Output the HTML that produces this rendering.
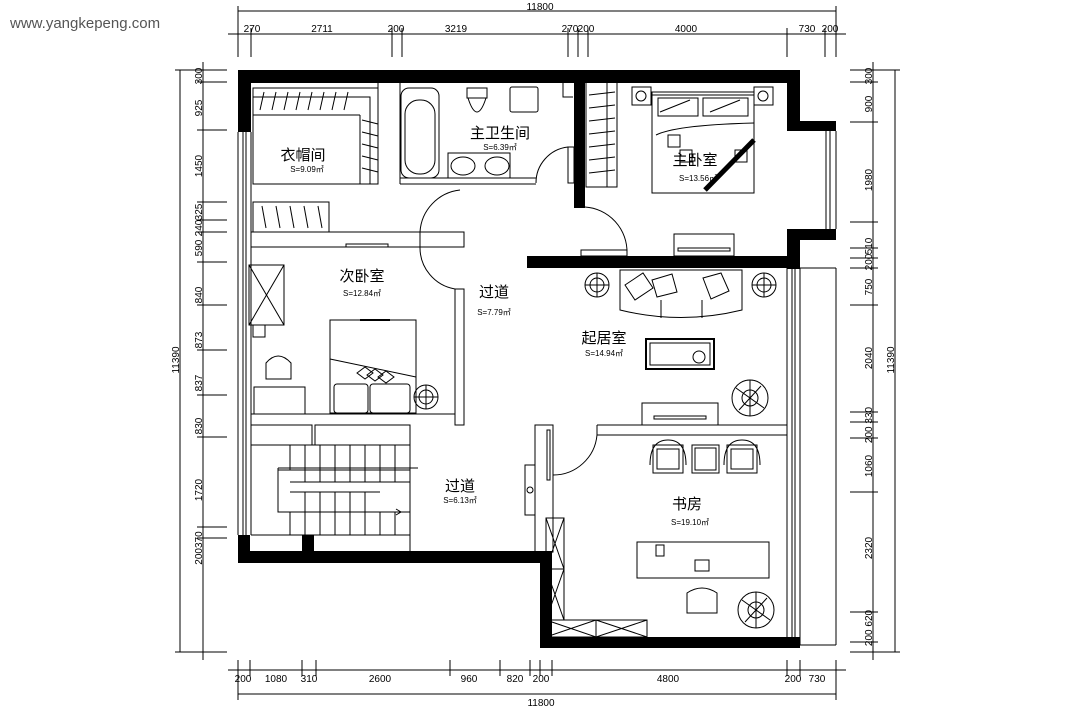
<!DOCTYPE html>
<html><head><meta charset="utf-8"><style>
html,body{margin:0;padding:0;background:#fff;}
svg{display:block;}
text{font-family:"Liberation Sans","Noto Sans CJK SC",sans-serif;fill:#000;}
.d{font-size:10px;font-family:"Liberation Sans",sans-serif;}
</style></head><body>
<svg width="1087" height="725" viewBox="0 0 1087 725" xmlns="http://www.w3.org/2000/svg">
<text x="10" y="28" style="font-size:15px;fill:#555">www.yangkepeng.com</text>

<g stroke="#000" stroke-width="1" fill="none">
<!-- top dims -->
<line x1="238" y1="11" x2="836" y2="11"/>
<line x1="228" y1="34" x2="846" y2="34"/>
<g>
<line x1="238" y1="6" x2="238" y2="57"/><line x1="251" y1="28" x2="251" y2="57"/><line x1="392" y1="28" x2="392" y2="57"/><line x1="402" y1="28" x2="402" y2="57"/><line x1="568" y1="28" x2="568" y2="57"/><line x1="578" y1="28" x2="578" y2="57"/><line x1="588" y1="28" x2="588" y2="57"/><line x1="787" y1="28" x2="787" y2="57"/><line x1="825" y1="28" x2="825" y2="57"/><line x1="836" y1="6" x2="836" y2="57"/>
</g>
<!-- bottom dims -->
<line x1="228" y1="670" x2="846" y2="670"/>
<line x1="238" y1="694" x2="836" y2="694"/>
<g>
<line x1="238" y1="660" x2="238" y2="700"/><line x1="250" y1="660" x2="250" y2="676"/><line x1="302" y1="660" x2="302" y2="676"/><line x1="316" y1="660" x2="316" y2="676"/><line x1="450" y1="660" x2="450" y2="676"/><line x1="500" y1="660" x2="500" y2="676"/><line x1="530" y1="660" x2="530" y2="676"/><line x1="540" y1="660" x2="540" y2="676"/><line x1="552" y1="660" x2="552" y2="676"/><line x1="787" y1="660" x2="787" y2="676"/><line x1="800" y1="660" x2="800" y2="676"/><line x1="836" y1="660" x2="836" y2="700"/>
</g>
<!-- left dims -->
<line x1="180" y1="70" x2="180" y2="652"/>
<line x1="203" y1="62" x2="203" y2="660"/>
<g>
<line x1="175" y1="70" x2="227" y2="70"/><line x1="197" y1="82" x2="227" y2="82"/><line x1="197" y1="130" x2="227" y2="130"/><line x1="197" y1="202" x2="227" y2="202"/><line x1="197" y1="220" x2="227" y2="220"/><line x1="197" y1="232" x2="227" y2="232"/><line x1="197" y1="262" x2="227" y2="262"/><line x1="197" y1="305" x2="227" y2="305"/><line x1="197" y1="350" x2="227" y2="350"/><line x1="197" y1="395" x2="227" y2="395"/><line x1="197" y1="437" x2="227" y2="437"/><line x1="197" y1="527" x2="227" y2="527"/><line x1="197" y1="538" x2="227" y2="538"/><line x1="175" y1="652" x2="227" y2="652"/>
</g>
<!-- right dims -->
<line x1="873" y1="62" x2="873" y2="660"/>
<line x1="895" y1="70" x2="895" y2="652"/>
<g>
<line x1="850" y1="70" x2="900" y2="70"/><line x1="850" y1="82" x2="878" y2="82"/><line x1="850" y1="122" x2="878" y2="122"/><line x1="850" y1="222" x2="878" y2="222"/><line x1="850" y1="248" x2="878" y2="248"/><line x1="850" y1="258" x2="878" y2="258"/><line x1="850" y1="268" x2="878" y2="268"/><line x1="850" y1="305" x2="878" y2="305"/><line x1="850" y1="412" x2="878" y2="412"/><line x1="850" y1="422" x2="878" y2="422"/><line x1="850" y1="438" x2="878" y2="438"/><line x1="850" y1="492" x2="878" y2="492"/><line x1="850" y1="612" x2="878" y2="612"/><line x1="850" y1="642" x2="878" y2="642"/><line x1="850" y1="652" x2="900" y2="652"/>
</g>
</g>
<!-- dimension texts -->
<g class="d" text-anchor="middle">
<text x="540" y="10" class="d">11800</text>
<text x="252" y="32" class="d">270</text><text x="322" y="32" class="d">2711</text><text x="396" y="32" class="d">200</text><text x="456" y="32" class="d">3219</text><text x="570" y="32" class="d">270</text><text x="586" y="32" class="d">200</text><text x="686" y="32" class="d">4000</text><text x="807" y="32" class="d">730</text><text x="830" y="32" class="d">200</text>
<text x="243" y="682" class="d">200</text><text x="276" y="682" class="d">1080</text><text x="309" y="682" class="d">310</text><text x="380" y="682" class="d">2600</text><text x="469" y="682" class="d">960</text><text x="515" y="682" class="d">820</text><text x="541" y="682" class="d">200</text><text x="668" y="682" class="d">4800</text><text x="793" y="682" class="d">200</text><text x="817" y="682" class="d">730</text>
<text x="541" y="706" class="d">11800</text>
</g>
<g class="d" text-anchor="middle">
<text transform="translate(202,76) rotate(-90)" class="d">300</text>
<text transform="translate(202,108) rotate(-90)" class="d">925</text>
<text transform="translate(202,166) rotate(-90)" class="d">1450</text>
<text transform="translate(202,212) rotate(-90)" class="d">325</text>
<text transform="translate(202,228) rotate(-90)" class="d">240</text>
<text transform="translate(202,248) rotate(-90)" class="d">590</text>
<text transform="translate(202,295) rotate(-90)" class="d">840</text>
<text transform="translate(202,340) rotate(-90)" class="d">873</text>
<text transform="translate(202,383) rotate(-90)" class="d">837</text>
<text transform="translate(202,426) rotate(-90)" class="d">830</text>
<text transform="translate(202,490) rotate(-90)" class="d">1720</text>
<text transform="translate(202,548) rotate(-90)" class="d">200370</text>
<text transform="translate(179,360) rotate(-90)" class="d">11390</text>
<text transform="translate(872,76) rotate(-90)" class="d">300</text>
<text transform="translate(872,104) rotate(-90)" class="d">900</text>
<text transform="translate(872,180) rotate(-90)" class="d">1980</text>
<text transform="translate(872,246) rotate(-90)" class="d">510</text>
<text transform="translate(872,262) rotate(-90)" class="d">200</text>
<text transform="translate(872,287) rotate(-90)" class="d">750</text>
<text transform="translate(872,358) rotate(-90)" class="d">2040</text>
<text transform="translate(872,425) rotate(-90)" class="d">200 330</text>
<text transform="translate(872,466) rotate(-90)" class="d">1060</text>
<text transform="translate(872,548) rotate(-90)" class="d">2320</text>
<text transform="translate(872,628) rotate(-90)" class="d">200 620</text>
<text transform="translate(894,360) rotate(-90)" class="d">11390</text>
</g>

<!-- thick walls -->
<g fill="#000">
<rect x="238" y="70" width="562" height="13"/>
<rect x="238" y="70" width="13" height="62"/>
<rect x="787" y="70" width="13" height="54"/>
<rect x="787" y="121" width="49" height="10"/>
<rect x="787" y="229" width="49" height="11"/>
<rect x="787" y="229" width="13" height="40"/>
<rect x="527" y="256" width="273" height="12"/>
<rect x="574" y="82" width="11" height="126"/>
<rect x="238" y="535" width="12" height="27"/>
<rect x="302" y="535" width="12" height="27"/>
<rect x="238" y="551" width="314" height="12"/>
<rect x="540" y="551" width="12" height="97"/>
<rect x="540" y="637" width="260" height="11"/>
</g>

<g stroke="#000" stroke-width="1" fill="none">
<!-- left window -->
<line x1="238" y1="132" x2="238" y2="535"/><line x1="243" y1="132" x2="243" y2="535"/><line x1="246" y1="132" x2="246" y2="535"/><line x1="251" y1="132" x2="251" y2="535"/>
<!-- right upper window -->
<line x1="826" y1="131" x2="826" y2="229"/><line x1="830" y1="131" x2="830" y2="229"/><line x1="836" y1="131" x2="836" y2="229"/>
<!-- right lower window -->
<line x1="800" y1="268" x2="800" y2="645"/><line x1="836" y1="268" x2="836" y2="645"/><line x1="800" y1="268" x2="836" y2="268"/><line x1="800" y1="645" x2="836" y2="645"/>
<line x1="787" y1="268" x2="787" y2="637"/><line x1="792" y1="268" x2="792" y2="637"/><line x1="795" y1="268" x2="795" y2="637"/>

<!-- closet (衣帽间) -->
<rect x="253" y="88" width="125" height="96"/>
<polyline points="253,97 370,97 370,184"/>
<line x1="253" y1="115" x2="360" y2="115"/><line x1="360" y1="115" x2="360" y2="184"/>
<line x1="378" y1="82" x2="378" y2="184"/><line x1="400" y1="82" x2="400" y2="184"/>
<g>
<line x1="260" y1="110" x2="264" y2="92"/><line x1="272" y1="110" x2="276" y2="92"/><line x1="284" y1="110" x2="288" y2="92"/><line x1="296" y1="110" x2="300" y2="92"/><line x1="308" y1="110" x2="312" y2="92"/><line x1="320" y1="110" x2="324" y2="92"/><line x1="332" y1="110" x2="336" y2="92"/><line x1="344" y1="110" x2="348" y2="92"/>
<line x1="362" y1="120" x2="378" y2="124"/><line x1="362" y1="132" x2="378" y2="136"/><line x1="362" y1="144" x2="378" y2="148"/><line x1="362" y1="156" x2="378" y2="160"/><line x1="362" y1="168" x2="378" y2="172"/>
</g>
<!-- lower closet -->
<rect x="253" y="202" width="76" height="30"/>
<line x1="262" y1="206" x2="266" y2="228"/><line x1="276" y1="206" x2="280" y2="228"/><line x1="290" y1="206" x2="294" y2="228"/><line x1="304" y1="206" x2="308" y2="228"/><line x1="318" y1="206" x2="322" y2="228"/>
<!-- partition wall with door -->
<polyline points="251,232 464,232 464,247 251,247"/>
<line x1="420" y1="232" x2="420" y2="247"/>
<path d="M420,232 A45,45 0 0 1 460,190"/>
<path d="M420,247 A42,42 0 0 0 455,289"/>
<rect x="346" y="244" width="42" height="3"/>
<!-- hall vertical wall -->
<rect x="455" y="289" width="9" height="136"/>
<!-- bath -->
<rect x="401" y="88" width="38" height="90" rx="8"/>
<rect x="405" y="100" width="30" height="74" rx="14"/>
<line x1="400" y1="178" x2="536" y2="178"/><line x1="400" y1="184" x2="536" y2="184"/>
<rect x="448" y="153" width="62" height="25"/>
<ellipse cx="463" cy="166" rx="12" ry="9"/><ellipse cx="497" cy="166" rx="12" ry="9"/>
<path d="M467,88 h20 v10 h-20z M468,98 q9,28 18,0"/>
<rect x="510" y="87" width="28" height="25" rx="2"/>
<path d="M563,82 v15 h10"/>
<rect x="568" y="147" width="6" height="36"/>
<path d="M536,183 A36,36 0 0 1 568,147"/>
<!-- master wardrobe -->
<rect x="586" y="82" width="31" height="105"/>
<line x1="607" y1="82" x2="607" y2="187"/>
<line x1="589" y1="95" x2="615" y2="92"/><line x1="589" y1="108" x2="615" y2="105"/><line x1="589" y1="121" x2="615" y2="118"/><line x1="589" y1="134" x2="615" y2="131"/><line x1="589" y1="147" x2="615" y2="144"/><line x1="589" y1="160" x2="615" y2="157"/><line x1="589" y1="173" x2="615" y2="170"/>
<!-- master bed -->
<rect x="632" y="87" width="19" height="18"/><rect x="754" y="87" width="19" height="18"/>
<circle cx="641" cy="96" r="5"/><circle cx="763" cy="96" r="5"/>
<rect x="652" y="92" width="102" height="101"/>
<line x1="652" y1="95" x2="754" y2="95"/>
<rect x="658" y="98" width="40" height="18"/><rect x="703" y="98" width="45" height="18"/>
<line x1="660" y1="112" x2="690" y2="100"/><line x1="710" y1="112" x2="740" y2="100"/>
<path d="M656,135 q20,-10 98,-12"/>
<line x1="705" y1="190" x2="754" y2="140" stroke-width="5"/>
<rect x="668" y="135" width="12" height="12"/><rect x="680" y="150" width="12" height="12"/><rect x="735" y="150" width="12" height="12"/>
<!-- master door -->
<path d="M585,207 A45,45 0 0 1 627,253"/>
<rect x="581" y="250" width="46" height="6"/>
<rect x="674" y="234" width="60" height="22"/>
<rect x="678" y="248" width="52" height="3"/>

<!-- second bedroom left furniture -->
<rect x="249" y="265" width="35" height="60"/>
<line x1="249" y1="265" x2="284" y2="325"/><line x1="284" y1="265" x2="249" y2="325"/>
<rect x="253" y="325" width="12" height="12"/>
<path d="M266,379 v-16 q12,-14 25,0 v16 z"/>
<rect x="254" y="387" width="51" height="27"/>
<line x1="251" y1="414" x2="455" y2="414"/>
<!-- bed2 -->
<rect x="330" y="320" width="86" height="93"/>
<line x1="360" y1="320" x2="390" y2="320" stroke-width="2"/>
<line x1="330" y1="359" x2="416" y2="377"/>
<rect x="334" y="384" width="34" height="29" rx="3"/><rect x="370" y="384" width="40" height="29" rx="3"/>
<path d="M357,373 l8,-6 8,6 -8,6z M367,375 l8,-6 8,6 -8,6z M378,377 l8,-6 8,6 -8,6z"/>
<circle cx="426" cy="397" r="12"/><circle cx="426" cy="397" r="7"/>
<line x1="414" y1="397" x2="438" y2="397"/><line x1="426" y1="385" x2="426" y2="409"/>

<!-- stair area -->
<polyline points="251,425 312,425 312,445 315,445 315,425 410,425 410,552"/>
<line x1="251" y1="445" x2="410" y2="445"/>
<rect x="290" y="445" width="120" height="90"/>
<g>
<line x1="305" y1="445" x2="305" y2="535"/><line x1="320" y1="445" x2="320" y2="535"/><line x1="335" y1="445" x2="335" y2="535"/><line x1="350" y1="445" x2="350" y2="535"/><line x1="365" y1="445" x2="365" y2="535"/><line x1="380" y1="445" x2="380" y2="535"/><line x1="395" y1="445" x2="395" y2="535"/>
</g>
<rect x="278" y="470" width="132" height="42" fill="#fff"/>
<line x1="290" y1="482" x2="410" y2="482"/><line x1="290" y1="492" x2="380" y2="492"/>
<g><line x1="305" y1="470" x2="305" y2="482"/><line x1="320" y1="470" x2="320" y2="482"/><line x1="335" y1="470" x2="335" y2="482"/><line x1="350" y1="470" x2="350" y2="482"/><line x1="365" y1="470" x2="365" y2="482"/><line x1="380" y1="470" x2="380" y2="482"/><line x1="395" y1="470" x2="395" y2="482"/>
<line x1="305" y1="492" x2="305" y2="512"/><line x1="320" y1="492" x2="320" y2="512"/><line x1="335" y1="492" x2="335" y2="512"/><line x1="350" y1="492" x2="350" y2="512"/><line x1="365" y1="492" x2="365" y2="512"/></g>
<line x1="290" y1="512" x2="410" y2="512"/>
<line x1="278" y1="468" x2="418" y2="468"/><line x1="278" y1="468" x2="278" y2="512"/>
<line x1="278" y1="512" x2="400" y2="512"/>
<path d="M396,509 l5,3 -5,3"/>
<line x1="251" y1="535" x2="290" y2="535"/>

<!-- study / living -->
<rect x="535" y="425" width="18" height="127"/>
<rect x="547" y="430" width="3" height="50"/>
<path d="M553,475 A44,44 0 0 0 597,435"/>
<polyline points="597,425 787,425 787,435 597,435 597,425"/>
<rect x="525" y="465" width="10" height="50"/><circle cx="530" cy="490" r="3"/>
<rect x="546" y="518" width="18" height="102"/>
<line x1="546" y1="518" x2="564" y2="569"/><line x1="564" y1="518" x2="546" y2="569"/>
<line x1="546" y1="569" x2="564" y2="569"/>
<line x1="546" y1="569" x2="564" y2="620"/><line x1="564" y1="569" x2="546" y2="620"/>
<rect x="546" y="620" width="101" height="17"/><line x1="596" y1="620" x2="596" y2="637"/>
<line x1="546" y1="620" x2="596" y2="637"/><line x1="596" y1="620" x2="546" y2="637"/><line x1="596" y1="620" x2="647" y2="637"/><line x1="647" y1="620" x2="596" y2="637"/>
<!-- study chairs -->
<rect x="653" y="445" width="30" height="28"/><rect x="657" y="449" width="22" height="20"/>
<rect x="692" y="445" width="27" height="28"/><rect x="695" y="448" width="21" height="22"/>
<rect x="727" y="445" width="30" height="28"/><rect x="731" y="449" width="22" height="20"/>
<path d="M650,465 q0,-25 18,-25 q18,0 18,25"/><path d="M724,465 q0,-25 18,-25 q18,0 18,25"/>
<rect x="637" y="542" width="132" height="36"/>
<rect x="656" y="545" width="8" height="11"/><rect x="695" y="560" width="14" height="11"/>
<path d="M687,613 v-20 q15,-10 30,0 v20 z"/>
<circle cx="756" cy="610" r="18"/><circle cx="756" cy="610" r="8"/>
<path d="M742,600 l28,20 M745,622 l22,-24 M756,592 v36"/>
<!-- living -->
<circle cx="597" cy="285" r="12"/><circle cx="597" cy="285" r="7"/><line x1="585" y1="285" x2="609" y2="285"/><line x1="597" y1="273" x2="597" y2="297"/>
<circle cx="764" cy="285" r="12"/><circle cx="764" cy="285" r="7"/><line x1="752" y1="285" x2="776" y2="285"/><line x1="764" y1="273" x2="764" y2="297"/>
<path d="M620,270 h122 v40 q-61,15 -122,0 z"/>
<line x1="661" y1="300" x2="661" y2="318"/><line x1="702" y1="300" x2="702" y2="318"/>
<path d="M625,285 l18,-12 10,15 -18,12z M652,280 l20,-6 5,18 -20,5z M703,278 l18,-5 8,18 -18,8z"/>
<rect x="646" y="339" width="68" height="30" stroke-width="2"/>
<rect x="650" y="343" width="60" height="22"/><circle cx="699" cy="357" r="6"/>
<rect x="642" y="403" width="76" height="22"/>
<rect x="654" y="416" width="52" height="3"/>
<circle cx="750" cy="398" r="18"/><circle cx="750" cy="398" r="8"/>
<path d="M736,388 l28,20 M739,410 l22,-24 M750,380 v36"/>
</g>

<!-- labels -->
<g text-anchor="middle">
<text x="303" y="160" style="font-size:15px">衣帽间</text>
<text x="307" y="172" class="d" style="font-size:8px">S=9.09㎡</text>
<text x="500" y="138" style="font-size:15px">主卫生间</text>
<text x="500" y="150" class="d" style="font-size:8px">S=6.39㎡</text>
<text x="695" y="165" style="font-size:15px">主卧室</text>
<text x="698" y="181" class="d" style="font-size:8px">S=13.56㎡</text>
<text x="362" y="281" style="font-size:15px">次卧室</text>
<text x="362" y="296" class="d" style="font-size:8px">S=12.84㎡</text>
<text x="494" y="297" style="font-size:15px">过道</text>
<text x="494" y="315" class="d" style="font-size:8px">S=7.79㎡</text>
<text x="604" y="343" style="font-size:15px">起居室</text>
<text x="604" y="356" class="d" style="font-size:8px">S=14.94㎡</text>
<text x="460" y="491" style="font-size:15px">过道</text>
<text x="460" y="503" class="d" style="font-size:8px">S=6.13㎡</text>
<text x="687" y="509" style="font-size:15px">书房</text>
<text x="690" y="525" class="d" style="font-size:8px">S=19.10㎡</text>
</g>
</svg>
</body></html>
